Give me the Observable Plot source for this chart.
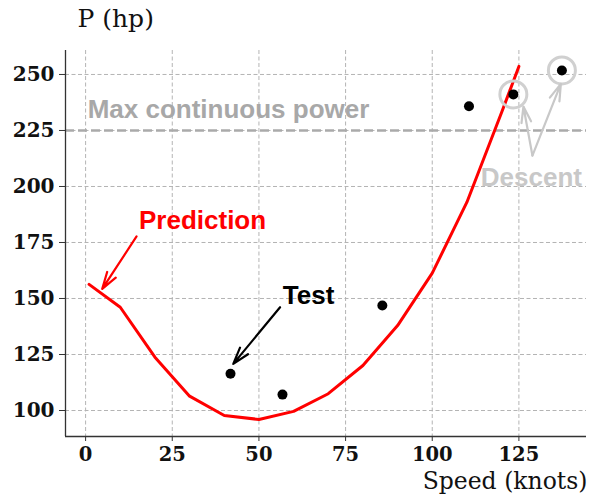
<!DOCTYPE html>
<html>
<head>
<meta charset="utf-8">
<script src="https://cdn.jsdelivr.net/npm/d3@7"></script>
<script src="https://cdn.jsdelivr.net/npm/@observablehq/plot@0.6"></script>
<style>
  html, body { margin: 0; padding: 0; background: #fff; }
  #chart svg { display: block; }
</style>
</head>
<body>
<div id="chart"></div>
<script>
// Predicted power curve (speed in knots, power in hp)
const predSpeed = [1, 10, 20, 30, 40, 50, 60, 70, 80, 90, 100, 110, 120, 125];
const predPower = [156.3, 146.1, 123.8, 106.4, 97.8, 96.0, 99.6, 107.5, 120.1, 137.9, 161.3, 193, 233, 253.6];

// Flight test points
const testSpeed = [41.8, 56.8, 85.6, 110.6, 123.4, 137.4];
const testPower = [116.4, 107.1, 146.9, 235.8, 241.1, 251.8];
const descentIndex = [4, 5];

// Power limit
const maxPower = 225;

// Axes
const xTicks = [0, 25, 50, 75, 100, 125];
const yTicks = [100, 125, 150, 175, 200, 225, 250];
const xDomain = [-5.8, 144.5];
const yDomain = [88.4, 260.7];

// Annotations: text anchors and arrows, in data units
const labels = [
  {text: "Prediction", x: 15.4, y: 181.1, color: "#ff0000"},
  {text: "Test", x: 56.9, y: 147.6, color: "#000000"},
  {text: "Descent", x: 114.0, y: 200.4, color: "#c8c8c8"},
  {text: "Max continuous power", x: 0.6, y: 230.4, color: "#a8a8a8"}
];
const arrows = [
  {x1: 14.7, y1: 177.7, x2: 4.8, y2: 154.3, color: "#ff0000"},
  {x1: 56.1, y1: 146.1, x2: 42.6, y2: 120.8, color: "#000000"},
  {x1: 128.9, y1: 213.8, x2: 126.3, y2: 235.7, color: "#c8c8c8"},
  {x1: 128.9, y1: 213.8, x2: 137.1, y2: 245.8, color: "#c8c8c8"}
];

const pred = predSpeed.map((s, i) => ({speed: s, power: predPower[i]}));
const tests = testSpeed.map((s, i) => ({speed: s, power: testPower[i]}));
const descent = descentIndex.map(i => tests[i]);

const serif = "'DejaVu Serif', serif";
const sans = "'Liberation Sans', Arial, sans-serif";
const grid = {stroke: "#b4b4b4", strokeOpacity: 1, strokeWidth: 1, strokeDasharray: "4,2.5"};

const chart = Plot.plot({
  width: 595,
  height: 494,
  marginLeft: 65,
  marginRight: 9,
  marginTop: 50,
  marginBottom: 58,
  x: {domain: xDomain},
  y: {domain: yDomain},
  style: {background: "#fff", overflow: "visible"},
  marks: [
    Plot.gridX(xTicks, grid),
    Plot.gridY(yTicks, grid),
    Plot.ruleY([maxPower], {stroke: "#aaaaaa", strokeWidth: 2.5, strokeDasharray: "9,4"}),
    Plot.axisX(xTicks, {
      tickSize: 5, tickPadding: 6, label: null, stroke: "#333",
      fontSize: 19.5, fontWeight: "bold", fontFamily: serif, fill: "#111"
    }),
    Plot.axisY(yTicks, {
      tickSize: 6, tickPadding: 5, label: null, stroke: "#333",
      fontSize: 20, fontWeight: "bold", fontFamily: serif, fill: "#111"
    }),
    Plot.ruleX([xDomain[0]], {stroke: "#333", strokeWidth: 1.3}),
    Plot.ruleY([yDomain[0]], {stroke: "#333", strokeWidth: 1.3}),
    Plot.line(pred, {x: "speed", y: "power", stroke: "#ff0000", strokeWidth: 3}),
    Plot.dot(descent, {x: "speed", y: "power", r: 13.5, fill: "none", stroke: "#d0d0d0", strokeWidth: 3}),
    Plot.dot(tests, {x: "speed", y: "power", r: 5, fill: "#000"}),
    Plot.arrow(arrows, {
      x1: "x1", y1: "y1", x2: "x2", y2: "y2", stroke: d => d.color,
      strokeWidth: 2.2, headLength: 12, headAngle: 34
    }),
    Plot.text(labels, {
      x: "x", y: "y", text: "text", fill: d => d.color,
      textAnchor: "start", lineAnchor: "bottom",
      fontSize: 26, fontWeight: "bold", fontFamily: sans
    }),
    Plot.text(["P (hp)"], {
      frameAnchor: "top-left", dx: 12, dy: -24, textAnchor: "start", lineAnchor: "bottom",
      fontSize: 25, fontFamily: serif, fill: "#111"
    }),
    Plot.text(["Speed (knots)"], {
      frameAnchor: "bottom-right", dx: 1, dy: 52, textAnchor: "end", lineAnchor: "bottom",
      fontSize: 23.5, fontFamily: serif, fill: "#111"
    })
  ]
});

document.getElementById("chart").appendChild(chart);
</script>
</body>
</html>
